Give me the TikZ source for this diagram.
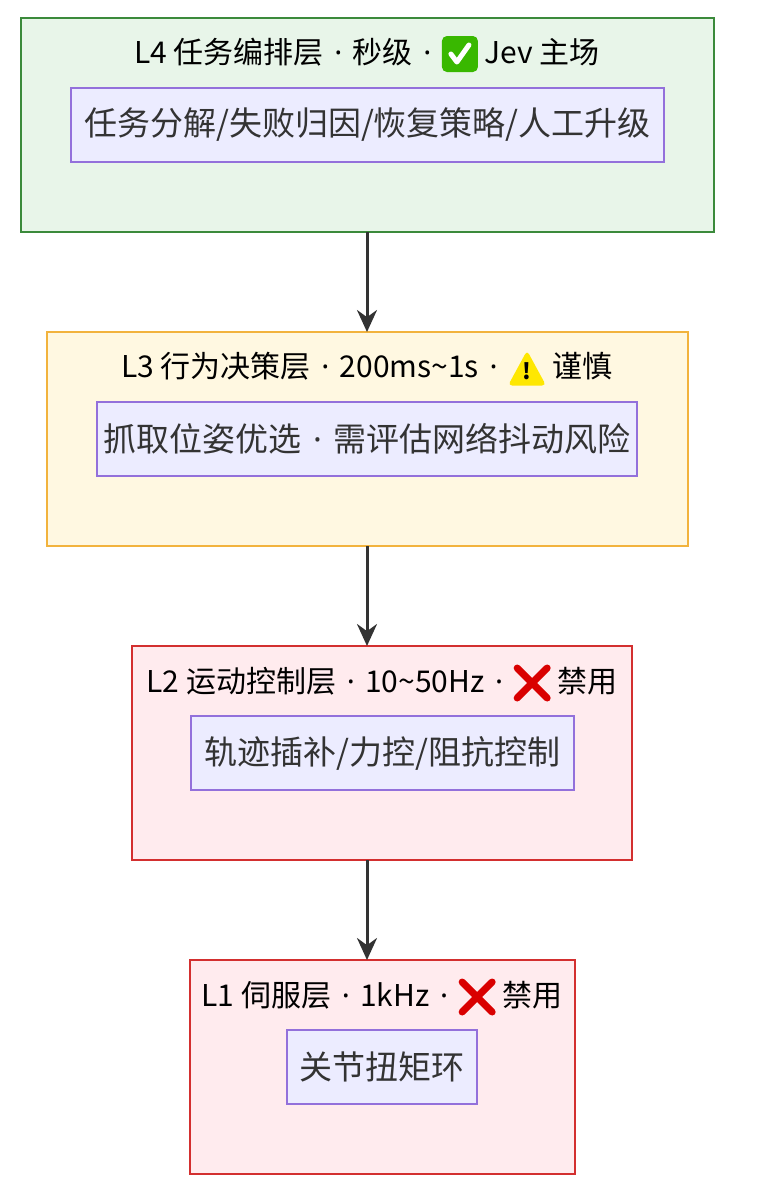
\documentclass[tikz,border=0pt]{standalone}
\usepackage{fontspec}
\setmainfont{Noto Sans CJK SC}
\newfontfamily\latfont{Noto Sans}
\usetikzlibrary{arrows.meta,positioning}
\definecolor{lgreen}{HTML}{E8F5E9}
\definecolor{dgreen}{HTML}{3B8A3B}
\definecolor{lyellow}{HTML}{FFF8E1}
\definecolor{dyellow}{HTML}{F2B33D}
\definecolor{lred}{HTML}{FFEBEE}
\definecolor{dred}{HTML}{D32F2F}
\definecolor{lpurple}{HTML}{ECECFF}
\definecolor{dpurple}{HTML}{9370DB}
\definecolor{txt}{HTML}{333333}
\newcommand{\dotsep}{{\latfont\hspace{0.35em}·\hspace{0.35em}}}
\newcommand{\okicon}{\tikz[baseline=-9pt,x=1pt,y=1pt]{\fill[green!60!black!70!lime,rounded corners=5pt] (-18,-18) rectangle (18,18);
  \draw[white,line width=5pt,line cap=round,line join=round] (-9,0) -- (-3,-8) -- (9,9);}}
\newcommand{\warnicon}{\tikz[baseline=-9pt,x=1pt,y=1pt]{\fill[yellow!90!orange,rounded corners=4pt] (-19,-17) -- (19,-17) -- (0,18) -- cycle;
  \node[font=\fontsize{22}{22}\selectfont\bfseries,inner sep=0] at (0,-3) {!};}}
\newcommand{\noicon}{\tikz[baseline=-9pt,x=1pt,y=1pt]{\draw[red!85!black,line width=7pt,line cap=round] (-15,-15) -- (15,15) (-15,15) -- (15,-15);}}
\begin{document}
\begin{tikzpicture}[x=1pt,y=-1pt,
  layer/.style={draw,line width=1.2pt},
  item/.style={draw=dpurple,fill=lpurple,line width=1.2pt,inner sep=0,
    font=\fontsize{33}{38}\selectfont,text=txt},
  title/.style={font=\fontsize{30}{34}\selectfont,text=black,inner sep=0},
  link/.style={-{Stealth[length=22pt,width=20pt]},line width=3pt,draw=txt}]
\useasboundingbox (0,0) rectangle (766,1192);

% --- Layers ---
\draw[layer,draw=dgreen,fill=lgreen] (21,18) rectangle (714,232);
\node[item,minimum width=593pt,minimum height=74pt] (i4) at (367.5,125) {任务分解/失败归因/恢复策略/人工升级};
\node[title] (t4) at (367,54) {L4 任务编排层\dotsep 秒级\dotsep\okicon{} Jev 主场};

\draw[layer,draw=dyellow,fill=lyellow] (47,332) rectangle (688,546);
\node[item,minimum width=540pt,minimum height=74pt] (i3) at (367,439) {抓取位姿优选\dotsep 需评估网络抖动风险};
\node[title] (t3) at (367,368) {L3 行为决策层\dotsep 200ms\textasciitilde 1s\dotsep\warnicon{} 谨慎};

\draw[layer,draw=dred,fill=lred] (132,646) rectangle (632,860);
\node[item,minimum width=383pt,minimum height=74pt] (i2) at (382.5,753) {轨迹插补/力控/阻抗控制};
\node[title] (t2) at (382,683) {L2 运动控制层\dotsep 10\textasciitilde 50Hz\dotsep\noicon{} 禁用};

\draw[layer,draw=dred,fill=lred] (190,960) rectangle (575,1174);
\node[item,minimum width=190pt,minimum height=74pt] (i1) at (382,1067) {关节扭矩环};
\node[title] (t1) at (382,997) {L1 伺服层\dotsep 1kHz\dotsep\noicon{} 禁用};

% --- Links ---
\coordinate (b4) at (367,232); \coordinate (a3) at (367,332);
\coordinate (b3) at (367,546); \coordinate (a2) at (367,646);
\coordinate (b2) at (367,860); \coordinate (a1) at (367,960);
\draw[link] (b4) -- (a3);
\draw[link] (b3) -- (a2);
\draw[link] (b2) -- (a1);
\end{tikzpicture}
\end{document}
